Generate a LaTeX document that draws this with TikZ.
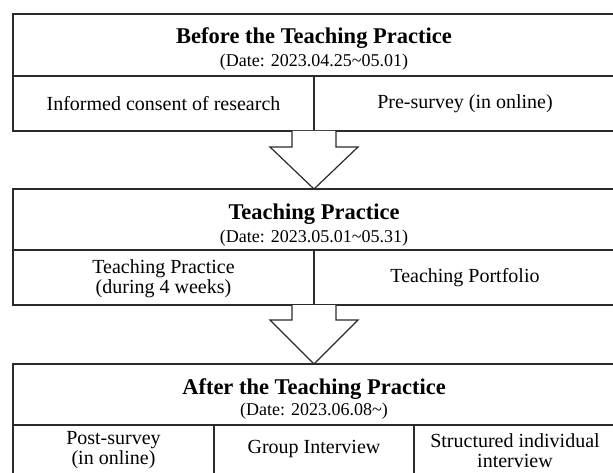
\documentclass[tikz,border=0pt]{standalone}
\usepackage{fontspec}
\setmainfont{Liberation Serif}
\usetikzlibrary{calc}
\definecolor{linecol}{HTML}{2B2B2B}
\tikzset{
  frame/.style={draw=linecol, line width=1.4pt},
  ttl/.style={anchor=base, inner sep=0pt, font=\fontsize{22.5}{27}\selectfont\bfseries},
  dte/.style={anchor=base, inner sep=0pt, font=\fontsize{18}{21}\selectfont},
  cell/.style={align=center, inner sep=0pt, font=\fontsize{20}{20}\selectfont},
  blockarrow/.style={draw=linecol, line width=1.2pt, fill=white, line join=miter},
}
\begin{document}
\begin{tikzpicture}[x=1pt,y=-1pt]
\useasboundingbox (0,0) rectangle (613,473);
\clip (0,0) rectangle (613,473);
\fill[white] (0,0) rectangle (613,473);

% ---------- Box 1 ----------
\draw[frame] (13,14) rectangle (616,131);
\draw[frame] (13,76) -- (616,76);
\draw[frame] (314,76) -- (314,131);
\node[ttl] (t1) at (314,44) {Before the Teaching Practice};
\node[dte] (d1) at (314,67) {(Date: 2023.04.25\textasciitilde 05.01)};
\node[cell] (c11) at (163.5,104) {Informed consent of research};
\node[cell] (c12) at (465,104) {Pre-survey (in online)};

% ---------- Arrow 1 ----------
\coordinate (a1s) at (314,131);
\coordinate (a1t) at (314,189);
\draw[blockarrow] ($(a1s)+(-22,0)$) -- ($(a1s)+(-22,16)$) -- ($(a1s)+(-44,16)$)
  -- (a1t) -- ($(a1s)+(44,16)$) -- ($(a1s)+(22,16)$) -- ($(a1s)+(22,0)$);

% ---------- Box 2 ----------
\draw[frame] (13,189) rectangle (616,305);
\draw[frame] (13,250) -- (616,250);
\draw[frame] (314,250) -- (314,305);
\node[ttl] (t2) at (314,219) {Teaching Practice};
\node[dte] (d2) at (314,242) {(Date: 2023.05.01\textasciitilde 05.31)};
\node[cell] (c21) at (163.5,279) {Teaching Practice\\(during 4 weeks)};
\node[cell] (c22) at (465,278) {Teaching Portfolio};

% ---------- Arrow 2 ----------
\coordinate (a2s) at (314,305);
\coordinate (a2t) at (314,364);
\draw[blockarrow] ($(a2s)+(-22,0)$) -- ($(a2s)+(-22,15)$) -- ($(a2s)+(-44,15)$)
  -- (a2t) -- ($(a2s)+(44,15)$) -- ($(a2s)+(22,15)$) -- ($(a2s)+(22,0)$);

% ---------- Box 3 ----------
\draw[frame] (13,364) rectangle (616,482);
\draw[frame] (13,425) -- (616,425);
\draw[frame] (214,425) -- (214,482);
\draw[frame] (414,425) -- (414,482);
\node[ttl] (t3) at (314,394) {After the Teaching Practice};
\node[dte] (d3) at (314,415) {(Date: 2023.06.08\textasciitilde)};
\node[cell] (c31) at (113.5,450.5) {Post-survey\\(in online)};
\node[cell] (c32) at (314,449.5) {Group Interview};
\node[cell] (c33) at (515,450.5) {Structured individual\\interview};
\end{tikzpicture}
\end{document}
